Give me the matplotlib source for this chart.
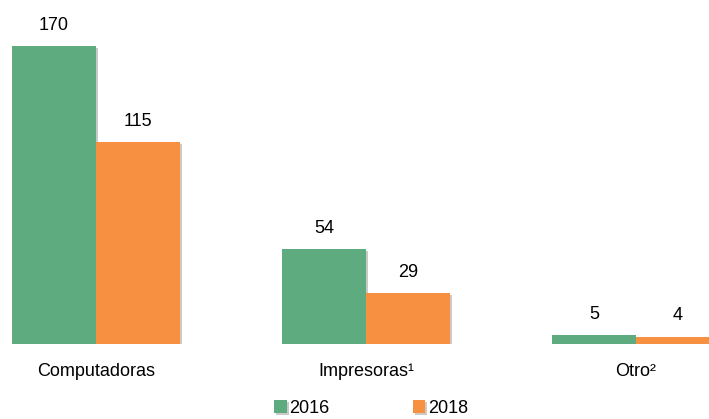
import matplotlib.pyplot as plt
import matplotlib.patheffects as pe
import numpy as np

plt.rcParams['font.family'] = ['Liberation Sans', 'DejaVu Sans']

categories = ['Computadoras', 'Impresoras¹', 'Otro²']
values_2016 = [170, 54, 5]
values_2018 = [115, 29, 4]
series_names = ['2016', '2018']
colors = ['#5DAB7F', '#F79040']

fig = plt.figure(figsize=(7.09, 4.19), dpi=100)
ax = fig.add_axes([0, 75 / 419, 1, 344 / 419])

x = np.arange(len(categories))
w = 84 / 270
shadow = [pe.SimplePatchShadow(offset=(1.5, -1.5), alpha=0.25), pe.Normal()]

for vals, off, col, name in [(values_2016, -w / 2, colors[0], series_names[0]),
                             (values_2018, w / 2, colors[1], series_names[1])]:
    bars = ax.bar(x + off, vals, width=w, color=col, label=name, zorder=2)
    for b in bars:
        b.set_path_effects(shadow)
    for xi, v in zip(x + off, vals):
        ax.annotate(str(v), (xi, v), xytext=(0, 9), textcoords='offset points',
                    ha='center', va='bottom', fontsize=13)

ax.set_xlim(-96 / 270, 2 + 73 / 270)
ax.set_ylim(0, 344 / (298 / 170))
ax.set_xticks(x)
ax.set_xticklabels(categories, fontsize=13)
ax.tick_params(axis='x', length=0, pad=14)
ax.set_yticks([])
for s in ax.spines.values():
    s.set_visible(False)

fig.legend(loc='center', bbox_to_anchor=(371 / 709, 1 - 408 / 419), ncol=2,
           frameon=False, fontsize=13, handlelength=0.7, handleheight=0.7,
           handletextpad=0.15, columnspacing=4.6)

fig.savefig('out.png', dpi=100)
